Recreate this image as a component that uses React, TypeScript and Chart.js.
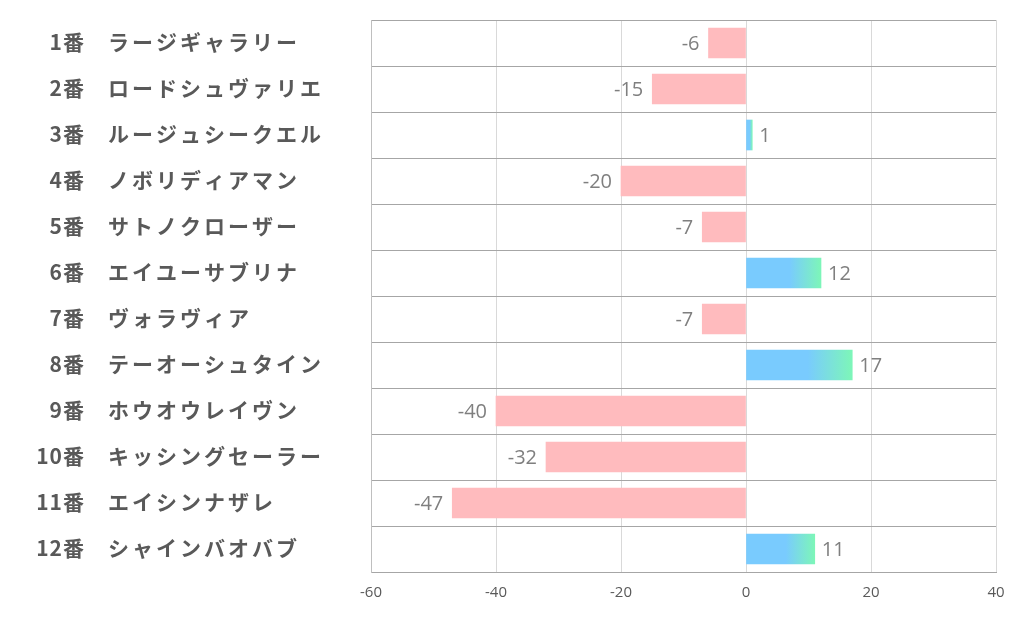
import React, { useEffect, useRef } from "react";
import { Chart, registerables } from "chart.js";

Chart.register(...registerables);

const numbers = ["1番", "2番", "3番", "4番", "5番", "6番", "7番", "8番", "9番", "10番", "11番", "12番"];
const names = [
  "ラージギャラリー",
  "ロードシュヴァリエ",
  "ルージュシークエル",
  "ノボリディアマン",
  "サトノクローザー",
  "エイユーサブリナ",
  "ヴォラヴィア",
  "テーオーシュタイン",
  "ホウオウレイヴン",
  "キッシングセーラー",
  "エイシンナザレ",
  "シャインバオバブ",
];
const values = [-6, -15, 1, -20, -7, 12, -7, 17, -40, -32, -47, 11];
const xTicks = [-60, -40, -20, 0, 20, 40];

const PINK = "#FFBBBE";
const BLUE = "#79CBFE";
const GREEN = "#7DF6B8";

const labelPlugin = {
  id: "customLabels",
  afterDraw(chart: any) {
    const ctx = chart.ctx;
    const ys = chart.scales.y;
    ctx.save();
    ctx.fillStyle = "#595959";
    ctx.font = "bold 21px 'Noto Sans CJK JP'";
    ctx.textBaseline = "middle";
    numbers.forEach((n, i) => {
      const y = ys.getPixelForValue(i) - 1;
      try { (ctx as any).letterSpacing = "1px"; } catch (e) {}
      ctx.textAlign = "right";
      ctx.fillText(n, 85, y);
      try { (ctx as any).letterSpacing = "3px"; } catch (e) {}
      ctx.textAlign = "left";
      ctx.fillText(names[i], 108, y);
    });
    try { (ctx as any).letterSpacing = "0px"; } catch (e) {}
    // value labels
    const meta = chart.getDatasetMeta(0);
    ctx.font = "20px 'Open Sans'";
    ctx.fillStyle = "#7F7F7F";
    meta.data.forEach((el: any, i: number) => {
      const v = values[i];
      const y = el.y + 1;
      if (v < 0) {
        ctx.textAlign = "right";
        ctx.fillText(String(v), el.x - 9, y);
      } else {
        ctx.textAlign = "left";
        ctx.fillText(String(v), el.x + 7, y);
      }
    });
    ctx.restore();
  },
};

export default function App() {
  const ref = useRef<HTMLCanvasElement>(null);
  useEffect(() => {
    if (!ref.current) return;
    const chart = new Chart(ref.current, {
      type: "bar",
      data: {
        labels: numbers.map((n, i) => n + " " + names[i]),
        datasets: [
          {
            data: values,
            barThickness: 30,
            backgroundColor: (c: any) => {
              const v = c.raw as number;
              if (v < 0) return PINK;
              const ch = c.chart;
              const xs = ch.scales && ch.scales.x;
              if (!xs || !ch.chartArea) return BLUE;
              const x0 = xs.getPixelForValue(0);
              const x1 = xs.getPixelForValue(v);
              if (!isFinite(x0) || !isFinite(x1) || x1 - x0 < 1) return BLUE;
              const g = ch.ctx.createLinearGradient(x0, 0, x1, 0);
              g.addColorStop(0, BLUE);
              g.addColorStop(0.58, BLUE);
              g.addColorStop(1, GREEN);
              return g;
            },
            borderWidth: 0,
          },
        ],
      },
      options: {
        indexAxis: "y",
        animation: false,
        responsive: false,
        layout: { padding: { top: 20, right: 26, left: 0, bottom: 0 } },
        plugins: { legend: { display: false }, tooltip: { enabled: false } },
        scales: {
          x: {
            min: -60,
            max: 40,
            afterBuildTicks: (s: any) => {
              s.ticks = xTicks.map((v) => ({ value: v }));
            },
            afterFit: (s: any) => {
              s.height = 54;
            },
            grid: { color: "#D9D9D9", drawTicks: false, lineWidth: 1 },
            border: { display: true, color: "#A6A6A6" },
            ticks: {
              color: "#595959",
              font: { family: "'Open Sans'", size: 15 },
              padding: 12,
            },
          },
          y: {
            afterFit: (s: any) => {
              s.width = 371;
            },
            grid: { color: "#A6A6A6", offset: true, drawTicks: false },
            border: { display: true, color: "#BFBFBF" },
            ticks: { display: false },
          },
        },
      },
      plugins: [labelPlugin],
    } as any);
    return () => chart.destroy();
  }, []);
  return (
    <div style={{ position: "fixed", left: 0, top: 0, width: 1022, height: 626, background: "#fff" }}>
      <canvas ref={ref} width={1022} height={626} />
    </div>
  );
}
